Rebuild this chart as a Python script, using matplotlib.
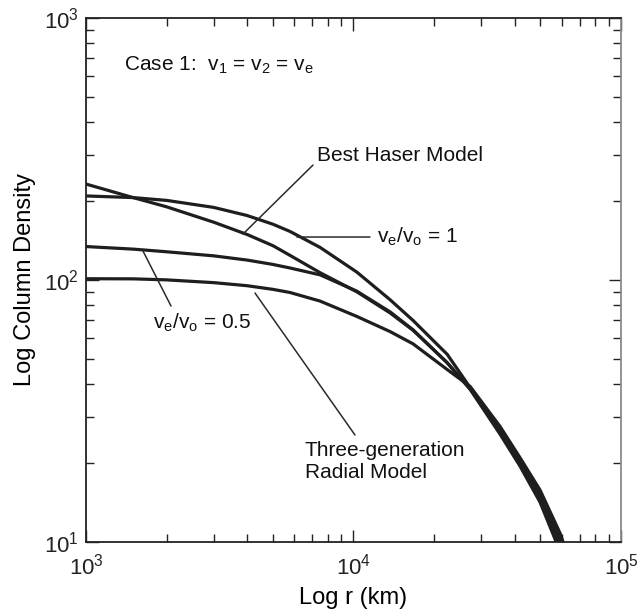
"""Column density vs radius: Haser model against three-generation radial models (Case 1)."""
import matplotlib

matplotlib.use("Agg")

import matplotlib.pyplot as plt  # noqa: E402

plt.rcParams["font.family"] = ["Liberation Sans", "DejaVu Sans"]
plt.rcParams["mathtext.fontset"] = "custom"
plt.rcParams["mathtext.rm"] = "Liberation Sans"
plt.rcParams["mathtext.it"] = "Liberation Sans"

# --- data (r in km, column density arbitrary units) ---------------------------------
r_km = [1000, 1500, 2000, 3000, 4000, 5000, 5790, 7500, 10300, 13700, 16700,
        22400, 27300, 35300, 41900, 49800, 59200, 66000]

n_haser = [232, 206, 190, 166, 149, 135, 124, 106.5, 90, 74.8, 64.2,
           48.3, 38.2, 25.8, 19.5, 14.2, 9.2, 6.6]
n_ve1 = [209, 206, 201, 189, 176, 163, 153, 133, 107, 84, 70,
         52, 38.8, 27.0, 20.5, 15.2, 10.2, 7.4]
n_ve05 = [134, 131, 128, 123.5, 119, 114.5, 111, 104.5, 90.5, 75.5, 64.5,
          48.3, 38.4, 26.4, 20.0, 14.7, 9.7, 7.0]
n_radial = [101, 100.9, 100, 97.6, 95, 92, 89.5, 83, 72.5, 63.5, 57,
            45.5, 39.2, 27.6, 21.0, 15.8, 10.8, 7.8]

case_label = r"Case 1:  v$_1$ = v$_2$ = v$_\mathrm{e}$"
haser_label = "Best Haser Model"
ve1_label = r"v$_\mathrm{e}$/v$_\mathrm{o}$ = 1"
ve05_label = r"v$_\mathrm{e}$/v$_\mathrm{o}$ = 0.5"
radial_label = "Three-generation\nRadial Model"

LINE = "#1e1e1e"
LEADER = "#2a2a2a"

fig = plt.figure(figsize=(6.39, 6.11), dpi=100)
ax = fig.add_axes([0.1346, 0.1129, 0.8372, 0.8581])

for series in (n_haser, n_ve1, n_ve05, n_radial):
    ax.plot(r_km, series, color=LINE, lw=2.3, solid_joinstyle="round")

ax.set_xscale("log")
ax.set_yscale("log")
ax.set_xlim(1e3, 1e5)
ax.set_ylim(1e1, 1e3)

ax.tick_params(which="both", direction="in", top=True, right=True, width=1.0,
               colors="#222222", labelsize=16)
ax.tick_params(which="major", length=9)
ax.tick_params(which="minor", length=5.5)
ax.tick_params(axis="x", which="major", pad=8)
ax.tick_params(axis="y", which="major", pad=5)
for side in ("left", "top", "bottom"):
    ax.spines[side].set_linewidth(1.3)
    ax.spines[side].set_color("#222222")
ax.spines["right"].set_linewidth(1.3)
ax.spines["right"].set_color("#8a8a8a")

ax.set_xlabel("Log r (km)", fontsize=17, labelpad=6)
ax.set_ylabel("Log Column Density", fontsize=17, labelpad=6)

# annotations (positions in axes fraction)
leader = dict(arrowstyle="-", color=LEADER, lw=1.1, shrinkA=0, shrinkB=0)
tkw = dict(transform=ax.transAxes, fontsize=15, color="#111111")

ax.text(0.071, 0.910, case_label, va="center", ha="left", **tkw)

ax.annotate("", xy=(0.2935, 0.5875), xytext=(0.4243, 0.719),
            xycoords="axes fraction", textcoords="axes fraction", arrowprops=leader)
ax.text(0.4318, 0.738, haser_label, va="center", ha="left", **tkw)

ax.annotate("", xy=(0.3944, 0.5817), xytext=(0.5308, 0.5817),
            xycoords="axes fraction", textcoords="axes fraction", arrowprops=leader)
ax.text(0.5439, 0.5817, ve1_label, va="center", ha="left", **tkw)

ax.annotate("", xy=(0.1065, 0.555), xytext=(0.1589, 0.4501),
            xycoords="axes fraction", textcoords="axes fraction", arrowprops=leader)
ax.text(0.1252, 0.4177, ve05_label, va="center", ha="left", **tkw)

ax.annotate("", xy=(0.3159, 0.4749), xytext=(0.5028, 0.2041),
            xycoords="axes fraction", textcoords="axes fraction", arrowprops=leader)
ax.text(0.4093, 0.1535, radial_label, va="center", ha="left",
        linespacing=1.15, **tkw)

fig.savefig("out.png", dpi=100)
